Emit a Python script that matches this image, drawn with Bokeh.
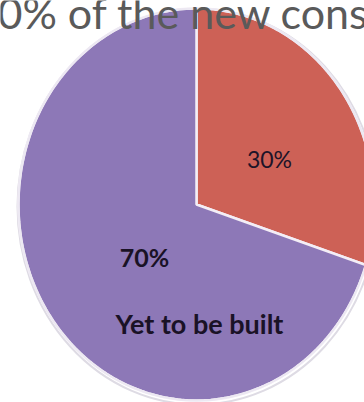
import numpy as np
from bokeh.plotting import figure
from bokeh.models import Range1d, ColumnDataSource
from bokeh.core.properties import value
from bokeh.embed import file_html
from bokeh.resources import INLINE

categories = ["Built", "Yet to be built"]
shares = [30, 70]
colors = ["#CD6156", "#8D78B7"]
pct_labels = ["30%", "70%"]
category_label = "Yet to be built"
title_text = "30% of the new construction"

W, H = 364, 402
p = figure(width=W, height=H, x_range=Range1d(0, W), y_range=Range1d(H, 0),
           output_backend="svg", toolbar_location=None, min_border=0)
p.axis.visible = False
p.grid.visible = False
p.outline_line_color = None
p.background_fill_color = "white"
p.border_fill_color = "white"

cx, cy, rx, ry = 196, 204, 178, 196
frac = np.array(shares, dtype=float) / sum(shares)
ends = np.cumsum(frac) * 2 * np.pi
starts = ends - frac * 2 * np.pi
xs, ys = [], []
for a0, a1 in zip(starts, ends):
    t = np.linspace(a0, a1, 240)
    xs.append(np.concatenate([[cx], cx + rx * np.sin(t), [cx]]))
    ys.append(np.concatenate([[cy], cy - ry * np.cos(t), [cy]]))

src = ColumnDataSource(dict(xs=xs, ys=ys, color=colors, cat=categories))
# soft shadow rim
p.ellipse(x=[cx + 1], y=[cy + 2], width=[2 * rx + 4], height=[2 * ry + 4],
          fill_color=None, line_color="#dedbe4", line_width=2)
p.patches(xs="xs", ys="ys", fill_color="color", line_color="#f4eef6", line_width=2.5, source=src)
p.ellipse(x=[cx], y=[cy], width=[2 * rx], height=[2 * ry],
          fill_color=None, line_color="#ece8f2", line_width=2)

# labels
p.text(x=[269], y=[158], text=[pct_labels[0]], text_font=value("Lato"), text_font_size="23px",
       text_color="#1d1428", text_align="center", text_baseline="middle")
p.text(x=[144], y=[256], text=[pct_labels[1]], text_font=value("Lato"), text_font_size="25px",
       text_font_style="bold", text_color="#1a1226", text_align="center", text_baseline="middle")
p.text(x=[199], y=[323], text=[category_label], text_font=value("Lato"), text_font_size="27px",
       text_font_style="bold", text_color="#1a1226", text_align="center", text_baseline="middle")

# title, cropped at the top edge as in the source image
p.text(x=[-28], y=[12], text=[title_text], text_font=value("Lato"), text_font_size="43px",
       text_color="#5a5a5a", text_align="left", text_baseline="alphabetic")

open("out.html", "w").write(file_html(p, INLINE))
